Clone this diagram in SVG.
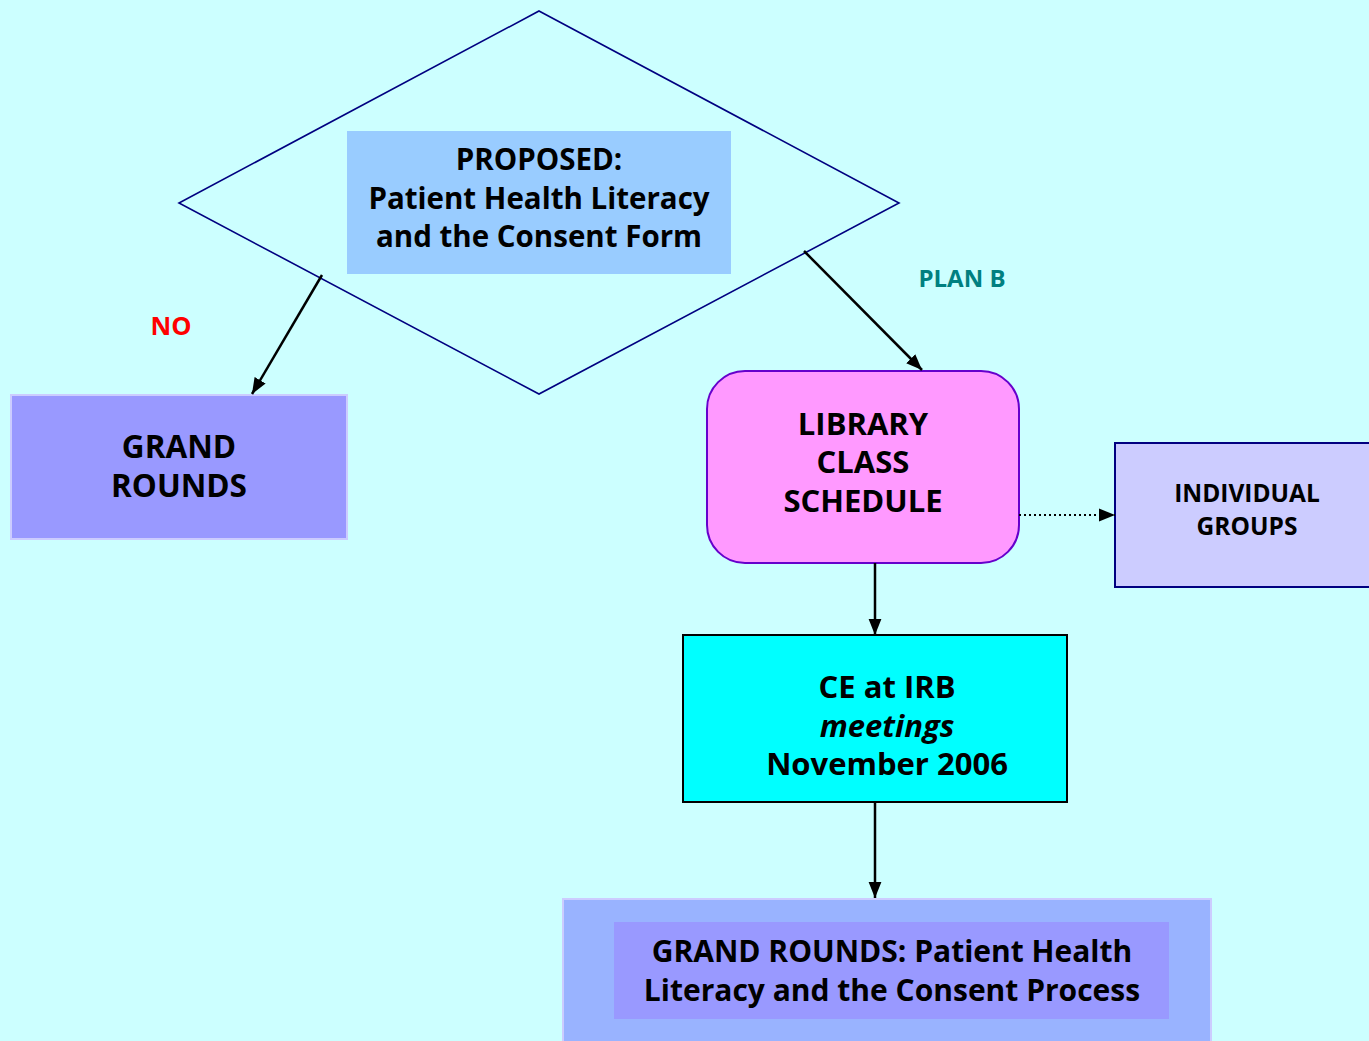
<svg xmlns="http://www.w3.org/2000/svg" width="1369" height="1041" viewBox="0 0 1369 1041">
<defs>
<style>
.t{font-family:"Open Sans","DejaVu Sans",sans-serif;font-weight:700;fill:#000;text-anchor:middle}
.conn{stroke:#000;stroke-width:2.5;fill:none}
</style>
<marker id="ah2" viewBox="0 0 10 10" refX="10" refY="5" markerWidth="16" markerHeight="16" markerUnits="userSpaceOnUse" orient="auto">
<path d="M0,1 L10,5 L0,9 z" fill="#000"/>
</marker>
</defs>
<rect width="1369" height="1041" fill="#CCFFFF"/>
<g id="decision">
<polygon points="539,11 899,203 539,394 179,203" fill="none" stroke="#000080" stroke-width="1.6"/>
<rect x="347" y="131" width="384" height="143" fill="#99CCFF"/>
<text class="t" font-size="29.5" x="539" y="170">PROPOSED:</text>
<text class="t" font-size="29.5" x="539" y="209">Patient Health Literacy</text>
<text class="t" font-size="29.5" x="539" y="247">and the Consent Form</text>
</g>
<g id="grand-rounds">
<rect x="11" y="395" width="336" height="144" fill="#9999FF" stroke="#CCCCFF" stroke-width="2"/>
<text class="t" font-size="31.5" x="179" y="458">GRAND</text>
<text class="t" font-size="31.5" x="179" y="497">ROUNDS</text>
</g>
<g id="library">
<rect x="707" y="371" width="312" height="192" rx="38" fill="#FF99FF" stroke="#6600CC" stroke-width="2"/>
<text class="t" font-size="31" x="863" y="435">LIBRARY</text>
<text class="t" font-size="31" x="863" y="473">CLASS</text>
<text class="t" font-size="31" x="863" y="512">SCHEDULE</text>
</g>
<g id="individual-groups">
<rect x="1115" y="443" width="260" height="144" fill="#CCCCFF" stroke="#000080" stroke-width="2"/>
<text class="t" font-size="24.5" x="1247" y="502">INDIVIDUAL</text>
<text class="t" font-size="24.5" x="1247" y="535">GROUPS</text>
</g>
<g id="ce-irb">
<rect x="683" y="635" width="384" height="167" fill="#00FFFF" stroke="#000" stroke-width="2"/>
<text class="t" font-size="31" x="887" y="698">CE at IRB</text>
<text class="t" font-size="31" x="887" y="737" font-style="italic">meetings</text>
<text class="t" font-size="31" x="887" y="775">November 2006</text>
</g>
<g id="grand-rounds-final">
<rect x="563" y="899" width="648" height="150" fill="#99B3FF" stroke="#CCCCFF" stroke-width="2"/>
<rect x="614" y="922" width="555" height="97" fill="#9999FF"/>
<text class="t" font-size="30" x="892" y="962">GRAND ROUNDS: Patient Health</text>
<text class="t" font-size="30" x="892" y="1001">Literacy and the Consent Process</text>
</g>
<g id="connectors">
<line class="conn" x1="322" y1="275" x2="252" y2="394" marker-end="url(#ah2)"/>
<line class="conn" x1="804" y1="251" x2="922" y2="370" marker-end="url(#ah2)"/>
<line x1="1019" y1="515" x2="1115" y2="515" stroke="#000" stroke-width="2" stroke-dasharray="2,3" marker-end="url(#ah2)"/>
<line class="conn" x1="875" y1="563" x2="875" y2="635" marker-end="url(#ah2)"/>
<line class="conn" x1="875" y1="802" x2="875" y2="898" marker-end="url(#ah2)"/>
<text x="171" y="335" font-family="Open Sans,DejaVu Sans,sans-serif" font-weight="700" font-size="25.5" fill="#FF0000" text-anchor="middle">NO</text>
<text x="962" y="287" font-family="Open Sans,DejaVu Sans,sans-serif" font-weight="700" font-size="24" fill="#008080" text-anchor="middle">PLAN B</text>
</g>
</svg>
